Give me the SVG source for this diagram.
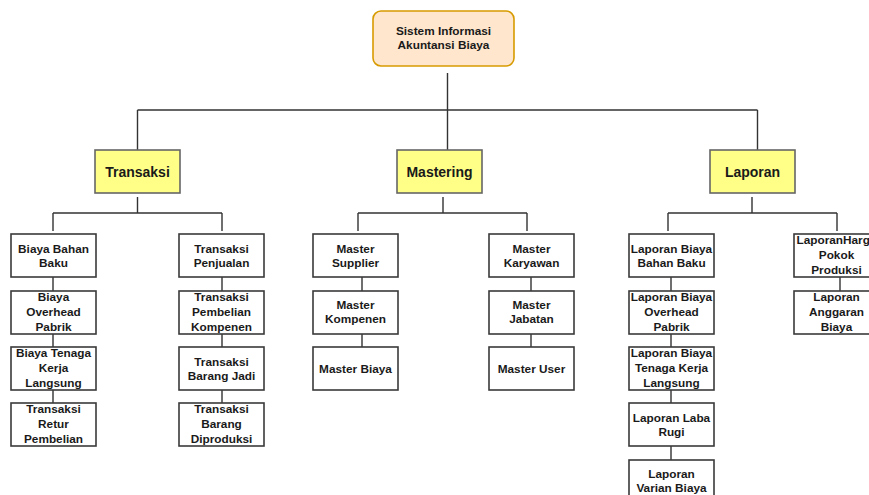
<svg xmlns="http://www.w3.org/2000/svg" width="869" height="495" viewBox="0 0 869 495">
<style>
.bg{fill:#ffffff}
.root{fill:#ffe6cc;stroke:#d79b00;stroke-width:1.6}
.l2{fill:#ffff88;stroke:#666666;stroke-width:1.6}
.box{fill:#ffffff;stroke:#3a3a3a;stroke-width:1.6}
.ln{fill:none;stroke:#333333;stroke-width:1.4}
text{font-family:"Liberation Sans",Arial,sans-serif;font-weight:bold;fill:#1a1a1a;text-anchor:middle}
.t{font-size:11.8px}
.h{font-size:14px}
</style>
<rect class="bg" x="0" y="0" width="869" height="495"/>
<g id="connectors">
<path class="ln" d="M447.5 73V150M137.5 110H757.5M137.5 110V150M757.5 110V150"/>
<path class="ln" d="M137.5 197V213M53 213H222M53 213V231M222 213V231"/>
<path class="ln" d="M443 197V213M358 213H527M358 213V231M527 213V231"/>
<path class="ln" d="M752 197V213M668 213H837M668 213V231M837 213V231"/>
<path class="ln" d="M53 277V291M53 334V347M53 390V403"/>
<path class="ln" d="M222 277V291M222 334V347M222 390V403"/>
<path class="ln" d="M362 277V291M362 334V347"/>
<path class="ln" d="M531 277V291M531 334V347"/>
<path class="ln" d="M671 277V291M671 334V347M671 390V403M671 446V460"/>
<path class="ln" d="M840 277V291"/>
</g>
<g id="root"><rect class="root" x="373" y="11" width="141" height="55" rx="8"/><text class="t" x="443.5" y="35">Sistem Informasi</text><text class="t" x="443.5" y="49">Akuntansi Biaya</text></g>
<g id="transaksi"><rect class="l2" x="95" y="150" width="85" height="43"/><text class="h" x="137.5" y="176.5">Transaksi</text></g>
<g id="mastering"><rect class="l2" x="397" y="150" width="85" height="43"/><text class="h" x="439.5" y="176.5">Mastering</text></g>
<g id="laporan"><rect class="l2" x="710" y="150" width="85" height="43"/><text class="h" x="752.5" y="176.5">Laporan</text></g>

<g id="t1"><rect class="box" x="11" y="234" width="85" height="43"/><text class="t" x="53.5" y="252.5">Biaya Bahan</text><text class="t" x="53.5" y="267">Baku</text></g>
<g id="t2"><rect class="box" x="11" y="291" width="85" height="43"/><text class="t" x="53.5" y="301">Biaya</text><text class="t" x="53.5" y="316">Overhead</text><text class="t" x="53.5" y="331">Pabrik</text></g>
<g id="t3"><rect class="box" x="11" y="347" width="85" height="43"/><text class="t" x="53.5" y="357">Biaya Tenaga</text><text class="t" x="53.5" y="372">Kerja</text><text class="t" x="53.5" y="387">Langsung</text></g>
<g id="t4"><rect class="box" x="11" y="403" width="85" height="43"/><text class="t" x="53.5" y="413">Transaksi</text><text class="t" x="53.5" y="428">Retur</text><text class="t" x="53.5" y="443">Pembelian</text></g>

<g id="t5"><rect class="box" x="179" y="234" width="85" height="43"/><text class="t" x="221.5" y="252.5">Transaksi</text><text class="t" x="221.5" y="267">Penjualan</text></g>
<g id="t6"><rect class="box" x="179" y="291" width="85" height="43"/><text class="t" x="221.5" y="301">Transaksi</text><text class="t" x="221.5" y="316">Pembelian</text><text class="t" x="221.5" y="331">Kompenen</text></g>
<g id="t7"><rect class="box" x="179" y="347" width="85" height="43"/><text class="t" x="221.5" y="365.5">Transaksi</text><text class="t" x="221.5" y="380">Barang Jadi</text></g>
<g id="t8"><rect class="box" x="179" y="403" width="85" height="43"/><text class="t" x="221.5" y="413">Transaksi</text><text class="t" x="221.5" y="428">Barang</text><text class="t" x="221.5" y="443">Diproduksi</text></g>

<g id="m1"><rect class="box" x="313" y="234" width="85" height="43"/><text class="t" x="355.5" y="252.5">Master</text><text class="t" x="355.5" y="267">Supplier</text></g>
<g id="m2"><rect class="box" x="313" y="291" width="85" height="43"/><text class="t" x="355.5" y="308.5">Master</text><text class="t" x="355.5" y="323">Kompenen</text></g>
<g id="m3"><rect class="box" x="313" y="347" width="85" height="43"/><text class="t" x="355.5" y="372.5">Master Biaya</text></g>
<g id="m4"><rect class="box" x="489" y="234" width="85" height="43"/><text class="t" x="531.5" y="252.5">Master</text><text class="t" x="531.5" y="267">Karyawan</text></g>
<g id="m5"><rect class="box" x="489" y="291" width="85" height="43"/><text class="t" x="531.5" y="308.5">Master</text><text class="t" x="531.5" y="323">Jabatan</text></g>
<g id="m6"><rect class="box" x="489" y="347" width="85" height="43"/><text class="t" x="531.5" y="372.5">Master User</text></g>

<g id="l1"><rect class="box" x="629" y="234" width="85" height="43"/><text class="t" x="671.5" y="252.5">Laporan Biaya</text><text class="t" x="671.5" y="267">Bahan Baku</text></g>
<g id="l2"><rect class="box" x="629" y="291" width="85" height="43"/><text class="t" x="671.5" y="301">Laporan Biaya</text><text class="t" x="671.5" y="316">Overhead</text><text class="t" x="671.5" y="331">Pabrik</text></g>
<g id="l3"><rect class="box" x="629" y="347" width="85" height="43"/><text class="t" x="671.5" y="357">Laporan Biaya</text><text class="t" x="671.5" y="372">Tenaga Kerja</text><text class="t" x="671.5" y="387">Langsung</text></g>
<g id="l4"><rect class="box" x="629" y="403" width="85" height="43"/><text class="t" x="671.5" y="421.5">Laporan Laba</text><text class="t" x="671.5" y="436">Rugi</text></g>
<g id="l5"><rect class="box" x="629" y="460" width="85" height="43"/><text class="t" x="671.5" y="477.5">Laporan</text><text class="t" x="671.5" y="492">Varian Biaya</text></g>
<g id="l6"><rect class="box" x="794" y="234" width="85" height="43"/><text class="t" x="836.5" y="244">LaporanHarga</text><text class="t" x="836.5" y="259">Pokok</text><text class="t" x="836.5" y="274">Produksi</text></g>
<g id="l7"><rect class="box" x="794" y="291" width="85" height="43"/><text class="t" x="836.5" y="301">Laporan</text><text class="t" x="836.5" y="316">Anggaran</text><text class="t" x="836.5" y="331">Biaya</text></g>
</svg>
